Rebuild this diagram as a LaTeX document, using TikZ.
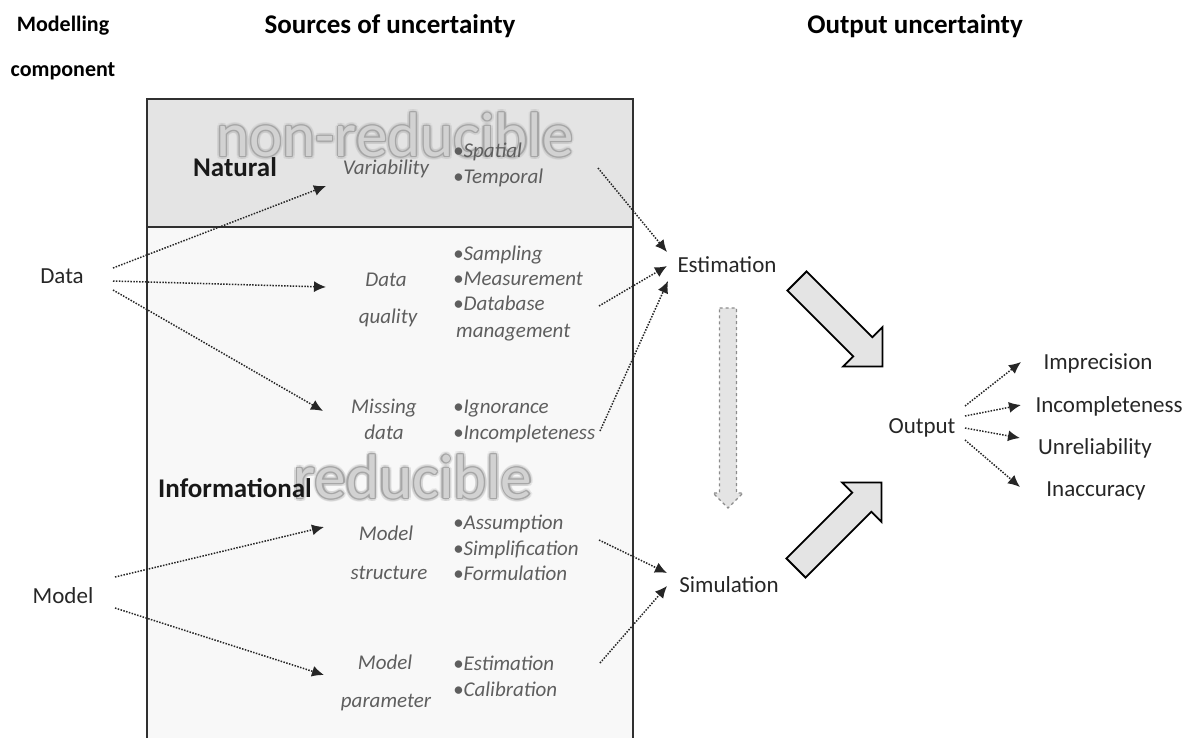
\documentclass[tikz,border=0pt]{standalone}
\usepackage{fontspec}
\setmainfont{Carlito}
\usetikzlibrary{arrows.meta}
\definecolor{natgray}{HTML}{E4E4E4}
\definecolor{infgray}{HTML}{F8F8F8}
\definecolor{srcgray}{HTML}{5E5E5E}
\definecolor{txtgray}{HTML}{262626}
\definecolor{wmfill}{HTML}{D2D2D2}
\definecolor{wmline}{HTML}{A6A6A6}
\definecolor{wmglow}{HTML}{BDBDBD}
\definecolor{boxline}{HTML}{303030}
\tikzset{
  base/.style={inner sep=0pt, text height=0.7em, text depth=0.2em, yshift=-4pt},
  lbl/.style={base, font=\fontsize{23}{27}\selectfont, text=txtgray},
  hdr/.style={base, font=\fontsize{27}{31}\selectfont\bfseries, text=black},
  smallhdr/.style={base, font=\fontsize{22}{26}\selectfont\bfseries, text=black},
  cat/.style={base, font=\fontsize{27}{31}\selectfont\bfseries, text=black!90},
  src/.style={base, font=\fontsize{21}{25}\selectfont\itshape, text=srcgray},
  item/.style={src, anchor=west},
  wm/.style={inner sep=0pt, font=\fontsize{63}{67}\selectfont},
  dotarrow/.style={line width=1.5pt, dash pattern=on 1.5pt off 1.4pt, color=black!85,
     -{Latex[length=12pt,width=11pt]}},
  blockarrow/.style={fill=natgray, draw=black, line width=1.8pt, line join=miter},
  dasharrow/.style={fill=natgray, draw=black!45, line width=1.2pt, dashed},
}
\newcommand{\watermark}[3]{%
  \foreach \a in {0,30,...,330}{
    \node[wm, text=wmglow, opacity=0.25, xshift={3.2*cos(\a)}, yshift={3.2*sin(\a)}] at (#1,#2) {#3};}
  \foreach \a in {0,45,...,315}{
    \node[wm, text=wmline, xshift={1.3*cos(\a)}, yshift={1.3*sin(\a)}] at (#1,#2) {#3};}
  \node[wm, text=wmfill] at (#1,#2) {#3};
}
\begin{document}
\begin{tikzpicture}[x=1pt, y=-1pt]
\useasboundingbox (0,0) rectangle (1193,737);
% ---- box -----
\fill[natgray] (147,99) rectangle (633,227);
\fill[infgray] (147,227) rectangle (633,745);
\draw[boxline, line width=2pt] (147,745) -- (147,99) -- (633,99) -- (633,745);
\draw[boxline, line width=2pt] (147,227) -- (633,227);
% ---- watermarks ----
\watermark{395}{135}{non-reducible}
\watermark{413}{477}{reducible}
% ---- headers ----
\node[smallhdr] (hmod) at (63,25) {Modelling};
\node[smallhdr] (hcomp) at (63,70) {component};
\node[hdr] (hsrc) at (390,27) {Sources of uncertainty};
\node[hdr] (hout) at (915,27) {Output uncertainty};
% ---- categories ----
\node[cat] (natural) at (235,170) {Natural};
\node[cat] (informational) at (235,491) {Informational};
% ---- components ----
\node[lbl] (data) at (62,277) {Data};
\node[lbl] (model) at (63,597) {Model};
% ---- sources ----
\node[src] (var) at (386,168) {Variability};
\node[src] (dq1) at (386,280) {Data};
\node[src] (dq2) at (388,317) {quality};
\node[src] (md1) at (384,407) {Missing};
\node[src] (md2) at (384,433) {data};
\node[src] (ms1) at (386,534) {Model};
\node[src] (ms2) at (389,573) {structure};
\node[src] (mp1) at (385,663) {Model};
\node[src] (mp2) at (386,701) {parameter};
% ---- items ----
\node[item] (i1) at (453,151) {•Spatial};
\node[item] (i2) at (453,177) {•Temporal};
\node[item] (i3) at (453,254) {•Sampling};
\node[item] (i4) at (453,279) {•Measurement};
\node[item] (i5) at (453,304) {•Database};
\node[item] (i6) at (456,331) {management};
\node[item] (i7) at (453,407) {•Ignorance};
\node[item] (i8) at (453,433) {•Incompleteness};
\node[item] (i9) at (453,523) {•Assumption};
\node[item] (i10) at (453,549) {•Simplification};
\node[item] (i11) at (453,574) {•Formulation};
\node[item] (i12) at (453,664) {•Estimation};
\node[item] (i13) at (453,690) {•Calibration};
% ---- output side ----
\node[lbl] (est) at (727,266) {Estimation};
\node[lbl] (sim) at (729,586) {Simulation};
\node[lbl] (out) at (922,427) {Output};
\node[lbl] (o1) at (1098,363) {Imprecision};
\node[lbl] (o2) at (1109,406) {Incompleteness};
\node[lbl] (o3) at (1095,448) {Unreliability};
\node[lbl] (o4) at (1096,490) {Inaccuracy};
% ---- connector ends ----
\coordinate (d1) at (113,268); \coordinate (d2) at (113,281); \coordinate (d3) at (113,290);
\coordinate (var-in) at (326,186); \coordinate (dq-in) at (326,287); \coordinate (md-in) at (323,411);
\coordinate (m1) at (115,577); \coordinate (m2) at (115,608);
\coordinate (ms-in) at (324,527); \coordinate (mp-in) at (324,675);
\coordinate (nat-out) at (598,168); \coordinate (dq-out) at (599,306); \coordinate (md-out) at (600,431);
\coordinate (ms-out) at (599,540); \coordinate (mp-out) at (600,663);
\coordinate (est-in1) at (667,252); \coordinate (est-in2) at (667,266); \coordinate (est-in3) at (668,281);
\coordinate (sim-in1) at (667,573); \coordinate (sim-in2) at (667,586);
\coordinate (out1) at (965,406); \coordinate (out2) at (965,416); \coordinate (out3) at (965,428); \coordinate (out4) at (965,440);
\coordinate (o1-in) at (1021,362); \coordinate (o2-in) at (1021,405); \coordinate (o3-in) at (1020,438); \coordinate (o4-in) at (1020,487);
% ---- connectors ----
\draw[dotarrow] (d1) -- (var-in);
\draw[dotarrow] (d2) -- (dq-in);
\draw[dotarrow] (d3) -- (md-in);
\draw[dotarrow] (m1) -- (ms-in);
\draw[dotarrow] (m2) -- (mp-in);
\draw[dotarrow] (nat-out) -- (est-in1);
\draw[dotarrow] (dq-out) -- (est-in2);
\draw[dotarrow] (md-out) -- (est-in3);
\draw[dotarrow] (ms-out) -- (sim-in1);
\draw[dotarrow] (mp-out) -- (sim-in2);
\draw[dotarrow] (out1) -- (o1-in);
\draw[dotarrow] (out2) -- (o2-in);
\draw[dotarrow] (out3) -- (o3-in);
\draw[dotarrow] (out4) -- (o4-in);
% ---- block arrows ----
\begin{scope}[shift={(797,281)}, rotate=-45]
  \draw[blockarrow] (0,-13.5) -- (93,-13.5) -- (93,-28) -- (121,0) -- (93,28) -- (93,13.5) -- (0,13.5) -- cycle;
\end{scope}
\begin{scope}[shift={(796,568)}, rotate=45]
  \draw[blockarrow] (0,-13.5) -- (93,-13.5) -- (93,-28) -- (121,0) -- (93,28) -- (93,13.5) -- (0,13.5) -- cycle;
\end{scope}
\draw[dasharrow] (719.5,308) -- (736.5,308) -- (736.5,493) -- (743,493) -- (728,508) -- (713,493) -- (719.5,493) -- cycle;
\end{tikzpicture}
\end{document}
